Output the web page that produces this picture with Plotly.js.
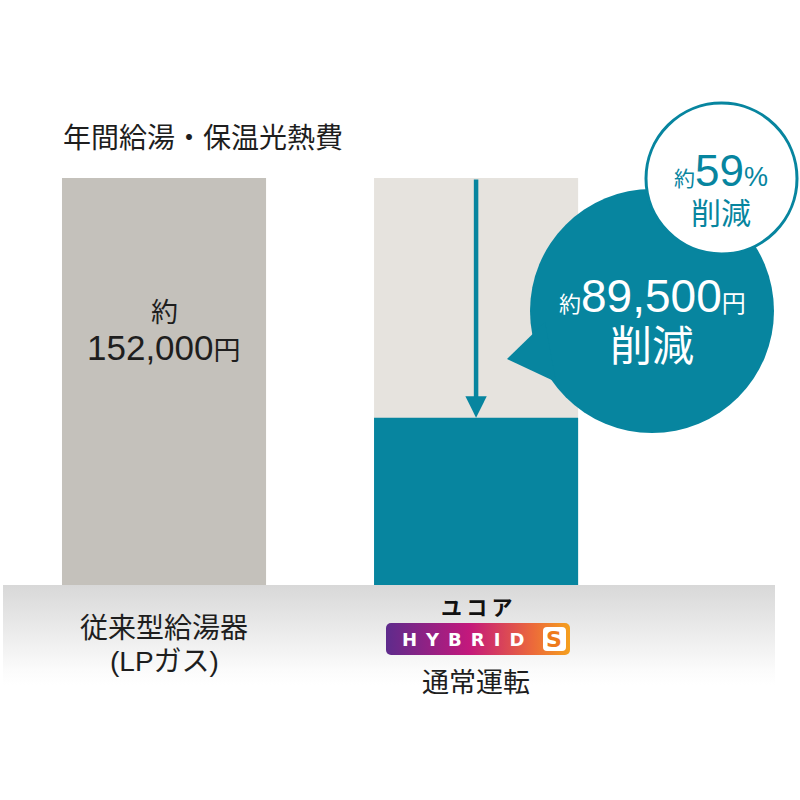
<!DOCTYPE html>
<html>
<head>
<meta charset="utf-8">
<script src="https://cdn.plot.ly/plotly-3.0.1.min.js"></script>
<style>
  html, body { margin: 0; padding: 0; background: #fff; }
  #chart { width: 800px; height: 800px; }
</style>
</head>
<body>
<div id="chart"></div>
<script>
// Data
const categories = ['従来型給湯器', 'ユコアHYBRID S'];
const annualCost = [152000, 62500];          // yen per year
const savingYen = 89500;
const savingPct = 59;

const TEAL = '#07859f';
const GRAY = '#c4c1bb';
const LIGHT = '#e6e3de';
const JP = '"Liberation Sans", "Noto Sans CJK JP", sans-serif';

// Convert pixel positions to paper fractions (margins are zero)
const px = v => v / 800;
const py = v => 1 - v / 800;

// Full-height bars: the conventional cost, and the same level as a pale backdrop for the hybrid
const baseTrace = {
  type: 'bar',
  x: categories,
  y: [annualCost[0], annualCost[0]],
  width: 0.654,
  marker: { color: [GRAY, LIGHT] },
  hoverinfo: 'skip'
};

// Hybrid cost drawn over its backdrop
const hybridTrace = {
  type: 'bar',
  x: [categories[1]],
  y: [annualCost[1]],
  width: 0.654,
  marker: { color: TEAL },
  hoverinfo: 'skip'
};

// Gradient strips are decoration only, built as small svg images
const bandSvg = "<svg xmlns='http://www.w3.org/2000/svg' width='772' height='100' preserveAspectRatio='none'>" +
  "<defs><linearGradient id='g' x1='0' y1='0' x2='0' y2='1'>" +
  "<stop offset='0' stop-color='#d8d8d8'/><stop offset='0.85' stop-color='#fbfbfb'/><stop offset='1' stop-color='#ffffff'/>" +
  "</linearGradient></defs><rect width='772' height='100' fill='url(#g)'/></svg>";

const badgeSvg = "<svg xmlns='http://www.w3.org/2000/svg' width='184' height='32'>" +
  "<defs><linearGradient id='b' x1='0' y1='0' x2='1' y2='0'>" +
  "<stop offset='0' stop-color='#5e2b8c'/><stop offset='0.45' stop-color='#c3187c'/>" +
  "<stop offset='0.8' stop-color='#ec6a3a'/><stop offset='1' stop-color='#f5a01e'/>" +
  "</linearGradient></defs><rect width='184' height='32' rx='5' fill='url(#b)'/>" +
  "<rect x='157' y='4' width='23' height='24' rx='4' fill='#ffffff'/></svg>";

const svgUri = s => 'data:image/svg+xml;charset=utf-8,' + encodeURIComponent(s);

// Centered text helper for paper-positioned labels
const label = (x, y, text, size, color, family) => ({
  xref: 'paper', yref: 'paper', x: px(x), y: py(y), xanchor: 'center', yanchor: 'middle',
  text: text, showarrow: false, font: { family: family || JP, size: size, color: color }
});

const layout = {
  width: 800,
  height: 800,
  margin: { l: 0, r: 0, t: 0, b: 0 },
  paper_bgcolor: '#ffffff',
  plot_bgcolor: 'rgba(0,0,0,0)',
  barmode: 'overlay',
  showlegend: false,
  xaxis: {
    type: 'category',
    range: [-0.5256, 2.038],
    showticklabels: false,
    showgrid: false,
    zeroline: false,
    showline: false,
    fixedrange: true
  },
  yaxis: {
    range: [-80295, 218477],
    showticklabels: false,
    showgrid: false,
    zeroline: false,
    showline: false,
    fixedrange: true
  },
  images: [
    { source: svgUri(bandSvg), xref: 'paper', yref: 'paper', x: px(3), y: py(585),
      sizex: px(772), sizey: 100 / 800, sizing: 'stretch', xanchor: 'left', yanchor: 'top', layer: 'below' },
    { source: svgUri(badgeSvg), xref: 'paper', yref: 'paper', x: px(386), y: py(623),
      sizex: px(184), sizey: 32 / 800, sizing: 'stretch', xanchor: 'left', yanchor: 'top', layer: 'above' }
  ],
  shapes: [
    // Large speech bubble
    { type: 'circle', xref: 'paper', yref: 'paper',
      x0: px(530), x1: px(774), y0: py(433), y1: py(189),
      fillcolor: TEAL, line: { width: 0 } },
    { type: 'path', xref: 'paper', yref: 'paper',
      path: `M ${px(545)},${py(322)} L ${px(507)},${py(359)} L ${px(556)},${py(382)} Z`,
      fillcolor: TEAL, line: { width: 0 } },
    // Small white circle with teal rim
    { type: 'circle', xref: 'paper', yref: 'paper',
      x0: px(646), x1: px(797), y0: py(254), y1: py(103),
      fillcolor: '#ffffff', line: { color: TEAL, width: 3 } }
  ],
  annotations: [
    // Title
    { xref: 'paper', yref: 'paper', x: px(61), y: py(138), xanchor: 'left', yanchor: 'middle',
      text: '年間給湯・保温光熱費', showarrow: false,
      font: { family: JP, size: 28, color: '#1e1e1e' } },
    // Arrow from the conventional level down to the hybrid level
    { x: categories[1], y: annualCost[1], ax: categories[1], ay: annualCost[0],
      xref: 'x', yref: 'y', axref: 'x', ayref: 'y', text: '',
      showarrow: true, arrowhead: 2, arrowsize: 0.95, arrowwidth: 4.5, arrowcolor: TEAL,
      standoff: 0, startstandoff: 0 },
    // Value on the conventional bar
    { x: categories[0], y: py(313), xref: 'x', yref: 'paper', xanchor: 'center', yanchor: 'middle',
      text: '約', showarrow: false, font: { family: JP, size: 27, color: '#1e1e1e' } },
    { x: categories[0], y: py(347), xref: 'x', yref: 'paper', xanchor: 'center', yanchor: 'middle',
      text: annualCost[0].toLocaleString('en-US') + '<span style="font-size:27px">円</span>',
      showarrow: false, font: { family: JP, size: 35, color: '#1e1e1e' } },
    // Small circle text
    label(721, 170, '<span style="font-size:21px">約</span>' + savingPct + '<span style="font-size:27px">%</span>', 44, TEAL),
    label(721, 213, '削減', 30, TEAL),
    // Large bubble text
    label(652, 296, '<span style="font-size:22px">約</span>' + savingYen.toLocaleString('en-US') + '<span style="font-size:24px">円</span>', 46, '#ffffff'),
    label(652, 346, '削減', 42, '#ffffff'),
    // Category labels
    { x: categories[0], y: py(628), xref: 'x', yref: 'paper', xanchor: 'center', yanchor: 'middle',
      text: categories[0], showarrow: false, font: { family: JP, size: 28, color: '#1e1e1e' } },
    { x: categories[0], y: py(661), xref: 'x', yref: 'paper', xanchor: 'center', yanchor: 'middle',
      text: '(LPガス)', showarrow: false, font: { family: JP, size: 28, color: '#1e1e1e' } },
    { x: categories[1], y: py(606), xref: 'x', yref: 'paper', xanchor: 'center', yanchor: 'middle',
      text: '<b>ユ\u2009コ\u2009ア</b>', showarrow: false, font: { family: '"Noto Sans CJK JP", sans-serif', size: 21, color: '#111111' } },
    label(463, 639, '<b>H\u2002Y\u2002B\u2002R\u2002I\u2002D</b>', 18, '#ffffff', '"DejaVu Sans", sans-serif'),
    label(554, 639, '<b>S</b>', 22, '#ee7a1c', '"DejaVu Sans", sans-serif'),
    { x: categories[1], y: py(683), xref: 'x', yref: 'paper', xanchor: 'center', yanchor: 'middle',
      text: '通常運転', showarrow: false, font: { family: JP, size: 27, color: '#1e1e1e' } }
  ]
};

Plotly.newPlot('chart', [baseTrace, hybridTrace], layout, { staticPlot: true, displayModeBar: false });
</script>
</body>
</html>
